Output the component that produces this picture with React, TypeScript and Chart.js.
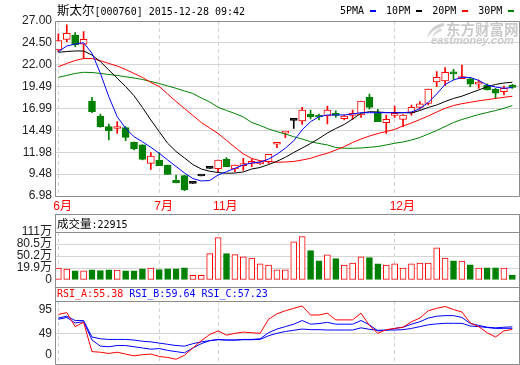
import React, { useEffect, useRef } from 'react';
import { Chart, registerables } from 'chart.js';

Chart.register(...registerables);

// ---------------- data ----------------
const monthTicks = [0, 12, 19, 40];
const monthLabels = ['6月', '7月', '11月', '12月'];
const priceTickLabels = ['6.98', '9.48', '11.98', '14.49', '16.99', '19.49', '22.00', '24.50', '27.00'];
const legendLabels = ['5PMA', '10PM', '20PM', '30PM'];

const openP = [23.68, 24.90, 25.40, 24.34, 17.85, 16.13, 14.91, 14.70, 14.80, 13.16, 12.82, 10.72, 11.10, 10.53, 8.78, 9.31, 8.43, 9.27, 10.14, 10.11, 11.17, 10.07, 10.45, 10.72, 10.65, 10.91, 12.90, 14.18, 15.64, 15.56, 16.36, 16.08, 16.13, 16.36, 15.83, 16.20, 16.25, 18.27, 16.44, 15.37, 16.20, 15.75, 16.51, 17.12, 17.58, 20.02, 20.14, 21.10, 20.40, 20.37, 19.78, 19.68, 19.18, 18.92, 19.50];
const highP = [25.52, 26.55, 25.67, 25.78, 18.27, 16.36, 15.22, 15.48, 14.91, 13.16, 12.82, 11.94, 11.94, 10.53, 9.38, 9.35, 8.43, 9.27, 10.14, 11.10, 11.37, 10.53, 11.29, 11.17, 10.95, 11.75, 12.93, 14.22, 15.64, 17.12, 16.82, 16.36, 17.28, 16.71, 16.24, 16.82, 17.85, 18.65, 16.90, 16.24, 17.28, 16.30, 17.39, 17.77, 19.22, 21.20, 21.66, 21.47, 21.97, 20.45, 20.25, 19.80, 19.30, 19.56, 19.76];
const lowP = [23.49, 24.64, 24.07, 22.73, 16.51, 14.84, 13.39, 14.15, 13.31, 12.24, 11.10, 10.03, 10.45, 9.46, 8.47, 7.59, 8.43, 9.27, 10.14, 9.76, 10.34, 9.76, 9.90, 10.34, 10.60, 10.72, 12.51, 13.65, 14.72, 15.18, 15.79, 15.68, 15.22, 15.98, 15.68, 15.75, 15.98, 16.90, 15.48, 14.15, 15.98, 14.91, 16.24, 16.90, 17.39, 19.49, 19.60, 20.33, 20.40, 19.49, 19.30, 19.11, 18.15, 18.54, 19.30];
const closeP = [24.75, 25.59, 24.26, 24.91, 16.63, 14.91, 14.45, 14.74, 13.69, 12.40, 11.17, 11.56, 10.45, 9.46, 8.50, 7.67, 8.43, 9.27, 10.14, 11.10, 10.34, 10.53, 10.50, 10.82, 10.80, 11.75, 12.93, 14.22, 15.64, 16.82, 16.06, 16.02, 16.82, 16.20, 16.13, 16.26, 17.85, 17.12, 15.48, 15.75, 16.26, 16.24, 17.12, 17.51, 19.22, 20.56, 21.13, 20.95, 20.63, 19.76, 19.84, 19.11, 18.73, 19.30, 19.40];

const ma5 = [23.49, 24.14, 24.37, 24.52, 23.31, 21.02, 18.34, 16.05, 14.73, 13.76, 13.19, 12.55, 11.87, 11.10, 10.36, 9.61, 8.98, 8.70, 8.75, 9.38, 9.76, 10.15, 10.53, 10.76, 10.85, 11.20, 11.75, 12.45, 13.30, 14.55, 15.48, 16.05, 16.25, 16.25, 16.25, 16.36, 16.51, 16.51, 16.51, 16.51, 16.51, 16.51, 16.59, 16.97, 17.68, 18.65, 19.74, 20.25, 20.56, 20.54, 20.20, 19.68, 19.45, 19.30, 19.39];
const ma10 = [23.42, 23.51, 23.57, 23.57, 23.11, 22.35, 21.40, 20.45, 19.51, 18.45, 17.11, 15.68, 14.34, 13.01, 12.07, 11.33, 10.58, 10.07, 9.81, 9.67, 9.58, 9.61, 9.73, 10.07, 10.24, 10.58, 10.95, 11.41, 11.96, 12.47, 12.99, 13.56, 14.19, 14.70, 15.16, 15.79, 16.44, 16.63, 16.59, 16.53, 16.51, 16.51, 16.48, 16.76, 17.11, 17.39, 17.79, 18.14, 18.40, 18.76, 19.11, 19.49, 19.74, 19.91, 19.99];
const ma20 = [21.77, 22.14, 22.48, 22.71, 22.71, 22.46, 22.14, 21.85, 21.45, 21.00, 20.54, 19.97, 19.51, 18.65, 17.79, 16.99, 16.19, 15.39, 14.76, 14.13, 13.35, 12.55, 11.79, 11.27, 11.02, 10.93, 10.84, 10.87, 10.93, 11.10, 11.29, 11.61, 11.87, 12.24, 12.62, 13.10, 13.50, 13.84, 14.13, 14.36, 14.59, 14.99, 15.33, 15.73, 16.13, 16.59, 17.01, 17.33, 17.54, 17.70, 17.87, 18.00, 18.14, 18.27, 18.39];
const ma30 = [20.56, 20.77, 21.00, 21.13, 21.11, 21.00, 20.88, 20.77, 20.62, 20.48, 20.31, 20.08, 19.85, 19.57, 19.30, 18.99, 18.71, 18.19, 17.74, 17.13, 16.76, 16.42, 16.02, 15.39, 15.05, 14.65, 14.34, 14.07, 13.76, 13.50, 13.19, 12.99, 12.82, 12.53, 12.44, 12.44, 12.47, 12.55, 12.64, 12.82, 13.01, 13.16, 13.39, 13.67, 14.07, 14.47, 14.93, 15.39, 15.73, 16.02, 16.30, 16.53, 16.76, 17.01, 17.33];

// volume in 万 (10k)
const volume = [19.6, 17.1, 12.7, 12.7, 15.3, 13.5, 15.3, 14.5, 12.7, 12.7, 17.8, 19.6, 16.0, 17.8, 17.8, 20.4, 1.7, 1.7, 56.3, 96.6, 56.3, 53.8, 47.9, 45.3, 30.7, 27.3, 15.3, 15.3, 86.4, 99.2, 64.0, 38.4, 53.0, 43.5, 27.3, 32.5, 47.9, 46.1, 30.7, 27.3, 30.7, 19.6, 30.7, 32.5, 32.5, 71.0, 45.3, 38.4, 37.6, 28.1, 19.6, 20.4, 20.4, 19.6, 2.2915];
const volTickValues = [-10.4, 19.9, 50.2, 80.5, 111];
const volTickLabels = ['0', '19.9万', '50.2万', '80.5万', '111万'];
const lastVolumeText = '22915';

const rsiA = [80, 83, 60, 67, 19, 18, 16, 18, 15, 12, 14, 15, 11, 9.5, 6.5, 13, 25, 37, 47, 53, 46, 49, 51, 50, 49, 72, 81, 86, 90, 94, 79, 79, 82, 71, 71, 71, 82, 62, 49, 55, 57, 59, 68, 74, 86, 90, 93, 88, 84, 66, 60, 50, 43, 53, 55.38];
const rsiB = [72, 75, 66, 68, 38, 28, 27, 29, 29, 27, 25, 23, 24, 21, 19, 17, 25, 32, 37, 39, 38, 38, 39, 39, 40, 50, 56, 60, 64, 70, 64, 65, 67, 64, 64, 64, 70, 63, 53, 54, 57, 59, 64, 68, 74, 77, 78, 78, 75, 65, 62, 59, 58, 59, 59.64];
const rsiC = [74, 77, 70, 70, 43, 40, 39, 39, 39, 38, 36, 35, 33, 31, 29, 28, 32, 35, 37, 38.5, 38, 38, 38.5, 38.5, 39, 45, 49, 52, 54, 56, 55, 55, 54.4, 54.4, 54.4, 54.4, 58, 55.6, 54, 54.4, 54.4, 55, 57, 60, 63, 64.5, 65.4, 65.4, 65.4, 61, 60, 58.5, 57, 57.2, 57.23];
const rsiTickValues = [13.4, 49, 88.3];
const rsiTickLabels = ['0', '49', '95'];

// ---------------- style ----------------
const RED = '#ff0000';
const GREEN = '#008000';
const BLUE = '#0000ff';
const BLACK = '#000000';
const FRAME = '#8c8c8c';
const GRID = '#d4d4d4';
const AXIS_FONT = '"Liberation Sans", Arial, "Noto Sans CJK SC", sans-serif';
const MONO = '"DejaVu Sans Mono", "Liberation Mono", monospace';
const CJK = '"Noto Sans CJK SC", sans-serif';
const X_MIN = -0.4;
const X_MAX = 54.85;

const idx = closeP.map((_, i) => i);
const candleColor = idx.map(i => (closeP[i] > openP[i] ? RED : closeP[i] < openP[i] ? GREEN : BLACK));
const candleFill = idx.map(i => (closeP[i] > openP[i] ? '#ffffff' : candleColor[i]));
const volDown = idx.map(i => closeP[i] < openP[i]);

function framePlugin(mode: 'main' | 'vol' | 'rsi') {
  return {
    id: 'frame_' + mode,
    afterDraw(chart: any) {
      const { ctx, chartArea: a, height } = chart;
      const L = Math.floor(a.left) + 0.5;
      const R = Math.floor(a.right) + 0.5;
      const T = Math.floor(a.top) + 0.5;
      const B = Math.floor(a.bottom) + 0.5;
      ctx.save();
      ctx.strokeStyle = FRAME;
      ctx.lineWidth = 1;
      ctx.setLineDash([]);
      ctx.beginPath();
      if (mode === 'main') {
        ctx.rect(L, T, R - L, B - T);
      } else {
        ctx.moveTo(L, 0.5); ctx.lineTo(R, 0.5);
        ctx.moveTo(L, T); ctx.lineTo(R, T);
        const bot = mode === 'vol' ? height : B;
        ctx.moveTo(L, 0); ctx.lineTo(L, bot);
        ctx.moveTo(R, 0); ctx.lineTo(R, bot);
        if (mode === 'rsi') { ctx.moveTo(L, B); ctx.lineTo(R, B); }
      }
      ctx.stroke();
      ctx.restore();
    },
  };
}

function makeX(showLabels: boolean, height: number) {
  return {
    type: 'linear' as const,
    min: X_MIN,
    max: X_MAX,
    offset: false,
    afterBuildTicks: (s: any) => { s.ticks = monthTicks.map(v => ({ value: v })); },
    afterFit: (s: any) => { s.height = height; s.paddingLeft = 0; s.paddingRight = 0; s.paddingTop = 0; s.paddingBottom = 0; },
    ticks: {
      display: showLabels,
      autoSkip: false,
      maxRotation: 0,
      minRotation: 0,
      align: 'start' as const,
      labelOffset: -5,
      padding: 3,
      color: RED,
      font: { family: AXIS_FONT, size: 12 },
      callback: (v: any) => monthLabels[monthTicks.indexOf(Number(v))] ?? '',
    },
    grid: { color: GRID, drawTicks: false, lineWidth: 1, offset: false },
    border: { display: false, dash: [4, 3] },
  };
}

function yAxis(min: number, max: number, values: number[], labels: string[], gridFilter: (v: number) => boolean) {
  return {
    min,
    max,
    afterBuildTicks: (s: any) => { s.ticks = values.map(v => ({ value: v })); },
    afterFit: (s: any) => { s.width = 55; s.paddingTop = 0; s.paddingBottom = 0; s.paddingLeft = 0; s.paddingRight = 0; },
    ticks: {
      padding: 3,
      color: '#222',
      autoSkip: false,
      font: { family: AXIS_FONT, size: 12 },
      callback: (_v: any, i: number) => labels[i],
    },
    grid: {
      drawTicks: false,
      color: (c: any) => (c.tick && gridFilter(c.tick.value) ? GRID : 'rgba(0,0,0,0)'),
    },
    border: { display: false },
  };
}

const common = {
  responsive: false,
  animation: false as const,
  devicePixelRatio: 1,
  events: [] as any[],
  plugins: { legend: { display: false }, tooltip: { enabled: false } },
};

function lineDs(data: number[], color: string) {
  return {
    type: 'line' as const,
    data: data.map((v, i) => ({ x: i, y: v })),
    borderColor: color,
    borderWidth: 1,
    pointRadius: 0,
    tension: 0,
    order: 0,
  };
}

export default function App() {
  const mainRef = useRef<HTMLCanvasElement>(null);
  const volRef = useRef<HTMLCanvasElement>(null);
  const rsiRef = useRef<HTMLCanvasElement>(null);

  useEffect(() => {
    const charts: Chart[] = [];
    const priceVals = priceTickLabels.map(Number);

    charts.push(new Chart(mainRef.current!, {
      type: 'bar',
      data: {
        datasets: [
          lineDs(ma5, BLUE),
          lineDs(ma10, BLACK),
          lineDs(ma20, RED),
          lineDs(ma30, GREEN),
          {
            type: 'bar',
            data: idx.map(i => ({ x: i, y: [openP[i], closeP[i]] })) as any,
            backgroundColor: candleFill,
            borderColor: candleColor,
            borderWidth: 1,
            borderSkipped: false,
            barThickness: 7,
            minBarLength: 2,
            grouped: false,
            order: 1,
          } as any,
          {
            type: 'bar',
            data: idx.map(i => ({ x: i, y: [lowP[i], highP[i]] })) as any,
            backgroundColor: candleColor,
            borderWidth: 0,
            barThickness: 1,
            grouped: false,
            order: 2,
          } as any,
        ],
      },
      options: {
        ...common,
        layout: { padding: { top: 21, right: 0.5, left: 0, bottom: 0 } },
        scales: {
          x: makeX(true, 19) as any,
          y: yAxis(priceVals[0], priceVals[priceVals.length - 1], priceVals, priceTickLabels, () => true) as any,
        },
      },
      plugins: [framePlugin('main')],
    }));

    charts.push(new Chart(volRef.current!, {
      type: 'bar',
      data: {
        datasets: [
          {
            data: idx.map(i => ({ x: i, y: volume[i] })) as any,
            base: volTickValues[0],
            backgroundColor: idx.map(i => (volDown[i] ? GREEN : '#ffffff')),
            borderColor: idx.map(i => (volDown[i] ? GREEN : RED)),
            borderWidth: 1,
            borderSkipped: false,
            barThickness: 6,
            grouped: false,
          } as any,
        ],
      },
      options: {
        ...common,
        layout: { padding: { top: 18, right: 0.5, left: 0, bottom: 0 } },
        scales: {
          x: makeX(false, 7) as any,
          y: yAxis(volTickValues[0], volTickValues[volTickValues.length - 1], volTickValues, volTickLabels,
            v => v > volTickValues[0] && v < volTickValues[volTickValues.length - 1]) as any,
        },
      },
      plugins: [framePlugin('vol')],
    }));

    charts.push(new Chart(rsiRef.current!, {
      type: 'line',
      data: {
        datasets: [lineDs(rsiA, RED), lineDs(rsiB, BLUE), lineDs(rsiC, BLUE)],
      },
      options: {
        ...common,
        layout: { padding: { top: 14, right: 0.5, left: 0, bottom: 0 } },
        scales: {
          x: makeX(false, 1) as any,
          y: yAxis(-1.3, 102, rsiTickValues, rsiTickLabels, v => v === 49) as any,
        },
      },
      plugins: [framePlugin('rsi')],
    }));

    return () => charts.forEach(c => c.destroy());
  }, []);

  const legendColors = [BLUE, BLACK, RED, GREEN];
  const last = (a: number[]) => a[a.length - 1].toFixed(2);

  return (
    <div style={{ position: 'absolute', left: 0, top: 0, width: 520, height: 365, background: '#fff', overflow: 'hidden' }}>
      <canvas ref={mainRef} width={520} height={215} style={{ position: 'absolute', left: 0, top: 0, width: 520, height: 215, display: 'block' }} />
      <canvas ref={volRef} width={520} height={73} style={{ position: 'absolute', left: 0, top: 214, width: 520, height: 73, display: 'block' }} />
      <canvas ref={rsiRef} width={520} height={78} style={{ position: 'absolute', left: 0, top: 287, width: 520, height: 78, display: 'block' }} />

      <div style={{ position: 'absolute', left: 57, top: 2, lineHeight: '15px', fontFamily: MONO, fontSize: 10, color: '#000', whiteSpace: 'pre' }}>
        <span style={{ fontFamily: CJK, fontSize: 12.5 }}>斯太尔</span>[000760] 2015-12-28 09:42
      </div>

      <div style={{ position: 'absolute', left: 340, top: 3, lineHeight: '15px', fontFamily: MONO, fontSize: 10, color: '#000', whiteSpace: 'pre', display: 'flex', alignItems: 'center' }}>
        {legendLabels.map((l, k) => (
          <React.Fragment key={l}>
            <span>{l}</span>
            <span style={{ display: 'inline-block', width: 6, height: 2, background: legendColors[k], marginLeft: 6, marginRight: k < 3 ? 10 : 0 }} />
          </React.Fragment>
        ))}
      </div>

      <svg width={22} height={18} viewBox="0 0 22 18" style={{ position: 'absolute', left: 424, top: 22 }}>
        <path d="M20 1 C12 2 5 7 3 16 C7 10 12 6 20 4 Z" fill="#d0d0d0" />
        <path d="M17 6 C12 8 9 11 8 16 C11 12 14 10 18 9 Z" fill="#dadada" />
      </svg>
      <div style={{ position: 'absolute', left: 446, top: 21, lineHeight: '16px', fontFamily: CJK, fontWeight: 700, fontSize: 14.5, color: '#cacaca', whiteSpace: 'pre' }}>东方财富网</div>
      <div style={{ position: 'absolute', left: 431, top: 34, lineHeight: '12px', fontFamily: '"Liberation Sans", Arial, sans-serif', fontStyle: 'italic', fontWeight: 700, fontSize: 11, color: '#cacaca', whiteSpace: 'pre' }}>eastmoney.com</div>

      <div style={{ position: 'absolute', left: 57, top: 216, lineHeight: '15px', fontFamily: MONO, fontSize: 10, color: '#000', whiteSpace: 'pre' }}>
        <span style={{ fontFamily: CJK, fontSize: 11.5 }}>成交量</span>:{lastVolumeText}
      </div>

      <div style={{ position: 'absolute', left: 57, top: 287, lineHeight: '14px', fontFamily: MONO, fontSize: 10, whiteSpace: 'pre' }}>
        <span style={{ color: RED }}>RSI_A:{last(rsiA)}</span> <span style={{ color: BLUE }}>RSI_B:{last(rsiB)}</span> <span style={{ color: BLUE }}>RSI_C:{last(rsiC)}</span>
      </div>
    </div>
  );
}
